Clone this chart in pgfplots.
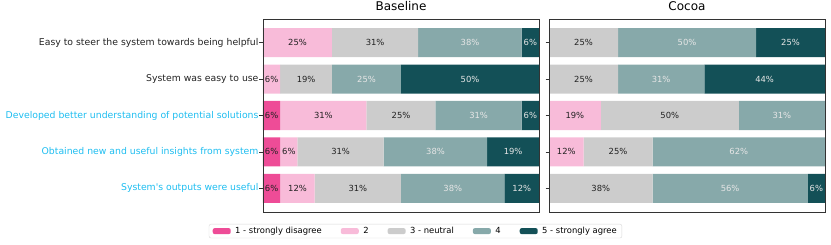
\documentclass[border=0pt]{standalone}
\usepackage{fontspec}
\setmainfont{DejaVu Sans}[Ligatures=TeXOff]
\usepackage{pgfplots}
\pgfplotsset{compat=1.18}
\definecolor{c1}{HTML}{EE4C97}
\definecolor{c2}{HTML}{F8BBD9}
\definecolor{c3}{HTML}{CCCCCC}
\definecolor{c4}{HTML}{87A9AA}
\definecolor{c5}{HTML}{135057}
\definecolor{tickblue}{HTML}{1DBDF0}
\definecolor{lighttxt}{HTML}{E6E6E6}
\definecolor{darktxt}{HTML}{222222}
\pgfplotsset{
  likert/.style={
    xbar stacked, bar width=0.8,
    scale only axis, width=276pt, height=193pt,
    xmin=0, xmax=100, ymin=-0.65, ymax=4.65, y dir=reverse,
    xtick=\empty, ytick={0,1,2,3,4}, ytick pos=left,
    tick align=outside, major tick length=3.5pt,
    tick style={color=black!80, line width=0.6pt},
    axis line style={black!80, line width=0.8pt},
    axis on top,
    point meta=explicit symbolic,
    nodes near coords={\pgfplotspointmeta},
    nodes near coords align={center},
    every node near coord/.append style={font=\fontsize{8.4}{10}\selectfont, anchor=center},
    yticklabel style={font=\fontsize{9.3}{11}\selectfont, text=darktxt, xshift=2.5pt},
    title style={font=\fontsize{12}{14}\selectfont, inner sep=2pt},
  },
  s1/.style={fill=c1, draw=none, every node near coord/.append style={text=darktxt}},
  s2/.style={fill=c2, draw=none, every node near coord/.append style={text=darktxt}},
  s3/.style={fill=c3, draw=none, every node near coord/.append style={text=darktxt}},
  s4/.style={fill=c4, draw=none, every node near coord/.append style={text=lighttxt}},
  s5/.style={fill=c5, draw=none, every node near coord/.append style={text=lighttxt}},
}
\begin{document}
\begin{tikzpicture}
\useasboundingbox (0,0) rectangle (831pt,245pt);
\begin{axis}[likert, at={(263pt,33pt)}, anchor=south west,
  title={Baseline},
  yticklabels={Easy to steer the system towards being helpful,
    System was easy to use,
    \textcolor{tickblue}{Developed better understanding of potential solutions},
    \textcolor{tickblue}{Obtained new and useful insights from system},
    \textcolor{tickblue}{System's outputs were useful}},
  legend columns=5,
  legend image code/.code={\fill[#1] (0pt,-3pt) rectangle (18pt,3pt);},
  legend style={at={(0.5525,-0.062)}, anchor=north, draw=black!15, rounded corners=2pt,
    font=\fontsize{8.4}{10}\selectfont, inner xsep=3.7pt, inner ysep=1.5pt,
    nodes={inner sep=1.5pt},
    /tikz/every odd column/.append style={column sep=3pt},
    /tikz/every even column/.append style={column sep=17.5pt}},
]
\addplot[s1] coordinates {(0,0) [\relax] (0,1) [\relax] (6.25,2) [6\%] (6.25,3) [6\%] (6.25,4) [6\%]};
\addlegendentry{1 - strongly disagree}
\addplot[s2] coordinates {(25,0) [25\%] (6.25,1) [6\%] (31.25,2) [31\%] (6.25,3) [6\%] (12.5,4) [12\%]};
\addlegendentry{2}
\addplot[s3] coordinates {(31.25,0) [31\%] (18.75,1) [19\%] (25,2) [25\%] (31.25,3) [31\%] (31.25,4) [31\%]};
\addlegendentry{3 - neutral}
\addplot[s4] coordinates {(37.5,0) [38\%] (25,1) [25\%] (31.25,2) [31\%] (37.5,3) [38\%] (37.5,4) [38\%]};
\addlegendentry{4}
\addplot[s5] coordinates {(6.25,0) [6\%] (50,1) [50\%] (6.25,2) [6\%] (18.75,3) [19\%] (12.5,4) [12\%]};
\addlegendentry{5 - strongly agree}
\end{axis}
\begin{axis}[likert, at={(549pt,33pt)}, anchor=south west,
  title={Cocoa}, yticklabels={}]
\addplot[s1] coordinates {(0,0) [\relax] (0,1) [\relax] (0,2) [\relax] (0,3) [\relax] (0,4) [\relax]};
\addplot[s2] coordinates {(0,0) [\relax] (0,1) [\relax] (18.75,2) [19\%] (12.5,3) [12\%] (0,4) [\relax]};
\addplot[s3] coordinates {(25,0) [25\%] (25,1) [25\%] (50,2) [50\%] (25,3) [25\%] (37.5,4) [38\%]};
\addplot[s4] coordinates {(50,0) [50\%] (31.25,1) [31\%] (31.25,2) [31\%] (62.5,3) [62\%] (56.25,4) [56\%]};
\addplot[s5] coordinates {(25,0) [25\%] (43.75,1) [44\%] (0,2) [\relax] (0,3) [\relax] (6.25,4) [6\%]};
\end{axis}
\end{tikzpicture}
\end{document}
